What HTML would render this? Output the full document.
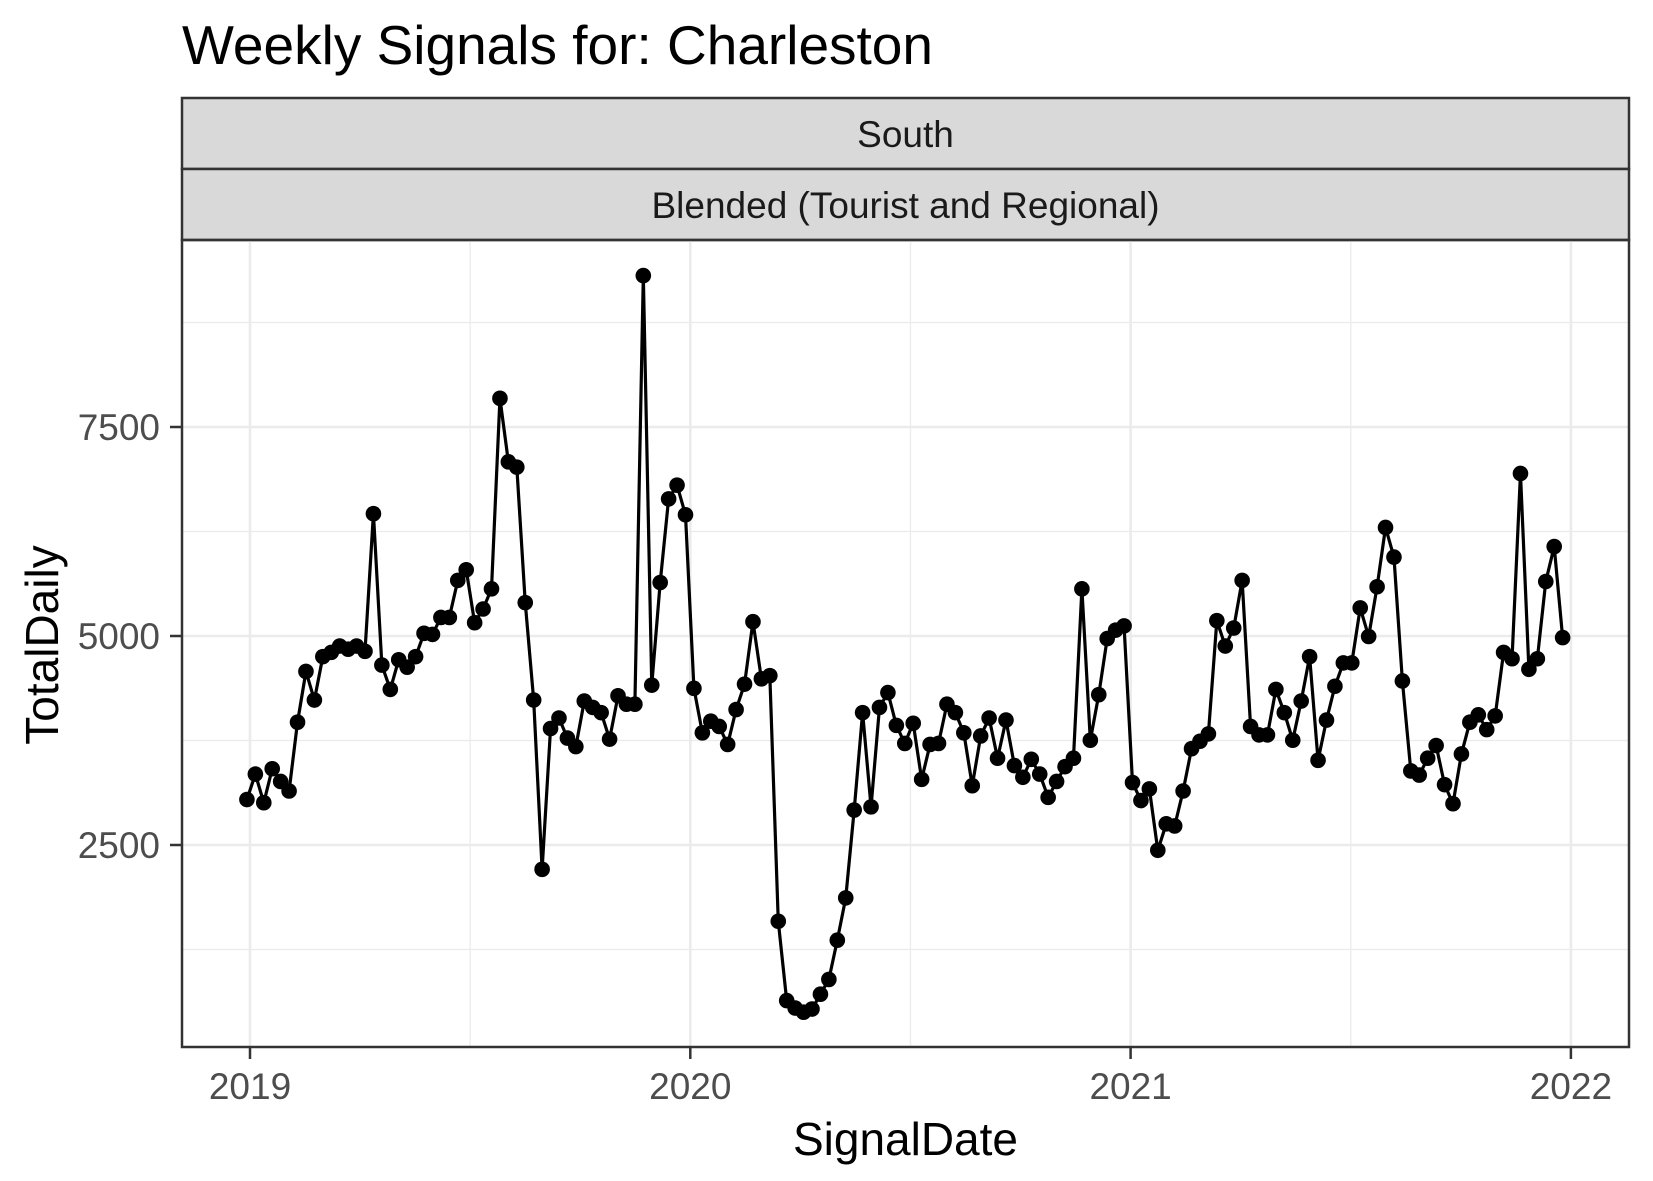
<!DOCTYPE html>
<html><head><meta charset="utf-8"><style>
body{margin:0;background:#fff;font-family:"Liberation Sans",sans-serif}
svg{display:block}
</style></head><body>
<svg id="chart" width="1653" height="1181">
<text x="182" y="64" font-size="55" fill="#000">Weekly Signals for: Charleston</text>
<rect x="182" y="98" width="1447" height="71" fill="#d9d9d9" stroke="#333" stroke-width="2.5"/>
<text x="905.5" y="147" font-size="37" text-anchor="middle" fill="#1a1a1a">South</text>
<rect x="182" y="169" width="1447" height="71" fill="#d9d9d9" stroke="#333" stroke-width="2.5"/>
<text x="905.5" y="218" font-size="37" text-anchor="middle" fill="#1a1a1a">Blended (Tourist and Regional)</text>
<g id="grid"></g><g id="series"></g>
<rect x="182" y="240" width="1447" height="807" fill="none" stroke="#333" stroke-width="2.5"/>
<g id="axes"></g>
<text x="905.5" y="1155" font-size="46" text-anchor="middle" fill="#000">SignalDate</text>
<text transform="translate(58,645) rotate(-90)" font-size="46" text-anchor="middle" fill="#000">TotalDaily</text>
</svg>
<script>
const values=[3044,3348,3006,3412,3260,3146,3969,4576,4234,4753,4804,4880,4842,4880,4817,6463,4652,4361,4716,4627,4753,5032,5019,5222,5222,5665,5792,5159,5323,5564,7843,7083,7020,5399,4234,2209,3893,4019,3779,3677,4222,4146,4083,3766,4285,4184,4184,9311,4412,5640,6640,6804,6450,4374,3842,3981,3918,3703,4120,4424,5171,4488,4526,1588,639,550,500,538,715,892,1361,1867,2918,4083,2956,4146,4323,3931,3715,3956,3285,3703,3715,4184,4083,3842,3209,3804,4019,3538,3994,3450,3310,3525,3348,3070,3260,3437,3538,5564,3753,4298,4969,5070,5121,3247,3032,3171,2437,2753,2728,3146,3652,3741,3829,5184,4880,5095,5665,3918,3817,3817,4361,4083,3753,4222,4753,3513,3994,4399,4678,4678,5336,4994,5589,6298,5944,4462,3386,3336,3538,3690,3222,2994,3589,3969,4057,3880,4044,4804,4728,6944,4602,4728,5652,6070,4981];
const startYear=2018.993;
const weekStep=7/365.25;
const yTicks=[2500,5000,7500];
const yMinor=[1250,3750,6250,8750];
const xTicks=[2019,2020,2021,2022];
const xMinor=[2019.5,2020.5,2021.5];
const NS='http://www.w3.org/2000/svg';
const X=t=>250+(t-2019)*440.3;
const Y=v=>845-(v-2500)*0.0836;
function mk(tag,attrs,parent){const e=document.createElementNS(NS,tag);for(const k in attrs)e.setAttribute(k,attrs[k]);parent.appendChild(e);return e;}
const grid=document.getElementById('grid'),series=document.getElementById('series'),axes=document.getElementById('axes');
yMinor.forEach(v=>{const l=mk('line',{x1:182,x2:1629,y1:Y(v),y2:Y(v),stroke:'#ebebeb','stroke-width':1.3},grid);

});
xMinor.forEach(v=>{const l=mk('line',{x1:X(v),x2:X(v),y1:240,y2:1047,stroke:'#ebebeb','stroke-width':1.3},grid);

});
yTicks.forEach(v=>{const l=mk('line',{x1:182,x2:1629,y1:Y(v),y2:Y(v),stroke:'#ebebeb','stroke-width':2.6},grid);


const t=mk('line',{x1:170,x2:182,y1:Y(v),y2:Y(v),stroke:'#333','stroke-width':2.5},axes);


const tx=mk('text',{x:160,y:Y(v)+13,'font-size':37,'text-anchor':'end',fill:'#4d4d4d'},axes);tx.textContent=v;

});
xTicks.forEach(v=>{const l=mk('line',{x1:X(v),x2:X(v),y1:240,y2:1047,stroke:'#ebebeb','stroke-width':2.6},grid);


const t=mk('line',{x1:X(v),x2:X(v),y1:1047,y2:1059,stroke:'#333','stroke-width':2.5},axes);


const tx=mk('text',{x:X(v),y:1099,'font-size':37,'text-anchor':'middle',fill:'#4d4d4d'},axes);tx.textContent=v;

});
const pts=values.map((v,i)=>[X(startYear+i*weekStep*0.9995),Y(v)]);
const line=mk('polyline',{points:pts.map(p=>p.join(',')).join(' '),fill:'none',stroke:'#000','stroke-width':3.2,'stroke-linejoin':'round'},series);


pts.forEach(p=>{const c=mk('circle',{cx:p[0],cy:p[1],r:7.8,fill:'#000'},series);

});
</script>
</body></html>
